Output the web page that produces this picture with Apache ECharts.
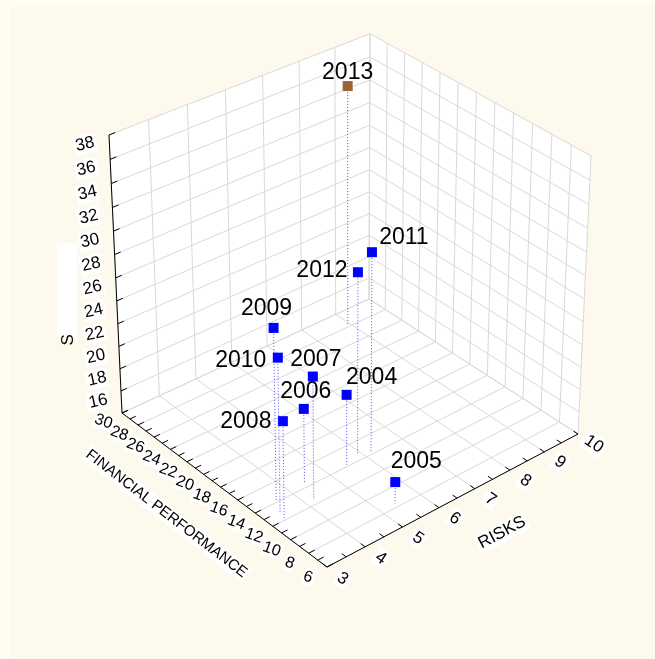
<!DOCTYPE html>
<html>
<head>
<meta charset="utf-8">
<script src="https://cdn.jsdelivr.net/npm/echarts@6/dist/echarts.min.js"></script>
<style>
html,body{margin:0;padding:0;background:#fffcf4;}
#c{width:655px;height:659px;}
</style>
</head>
<body>
<div id="c"></div>
<script>
// ---------------- data ----------------
const years = [2004, 2005, 2006, 2007, 2008, 2009, 2010, 2011, 2012, 2013];
const risks = [5.5, 5.4, 4.4, 4.2, 3.3, 3.6, 3.4, 6.2, 5.9, 8.9];
const financialPerformance = [14.2, 8.4, 14.4, 12.5, 12.0, 14.2, 12.9, 14.3, 14.6, 28.1];
const sValues = [20.2, 15.9, 20.6, 24.7, 22.6, 28.8, 27.3, 31.3, 29.9, 35.6];

const riskTicks = [3, 4, 5, 6, 7, 8, 9, 10];
const finTicks = [6, 8, 10, 12, 14, 16, 18, 20, 22, 24, 26, 28, 30];
const sTicks = [14, 16, 18, 20, 22, 24, 26, 28, 30, 32, 34, 36, 38];
const sTickLabels = ['', '16', '18', '20', '22', '24', '26', '28', '30', '32', '34', '36', '38'];

const axisTitles = { fin: 'FINANCIAL PERFORMANCE', risk: 'RISKS', s: 'S' };
const highlightYear = 2013;

// ---------------- layout / view ----------------
const RISK_RANGE = [3, 10], FIN_RANGE = [6, 30], S_RANGE = [14, 38];
// projective view of the unit cube (u: risks, v: financial perf., s: vertical)
const VIEW = [
  [293.84, -195.37, -20.36, 327],
  [-100.84, -121.41, -307.8, 567],
  [0.07411, 0.0789, -0.05818, 1]
];
function P(u, v, s) {
  const w = VIEW[2][0]*u + VIEW[2][1]*v + VIEW[2][2]*s + VIEW[2][3];
  return [
    (VIEW[0][0]*u + VIEW[0][1]*v + VIEW[0][2]*s + VIEW[0][3]) / w,
    (VIEW[1][0]*u + VIEW[1][1]*v + VIEW[1][2]*s + VIEW[1][3]) / w
  ];
}
const nu = r => (r - RISK_RANGE[0]) / (RISK_RANGE[1] - RISK_RANGE[0]);
const nv = f => (f - FIN_RANGE[0]) / (FIN_RANGE[1] - FIN_RANGE[0]);
const ns = z => (z - S_RANGE[0]) / (S_RANGE[1] - S_RANGE[0]);

const FONT = '"Liberation Sans", Arial, Helvetica, sans-serif';
const GRID = '#d9d9d9';
const AXIS = '#000000';

// label placement around each marker (offset of text centre)
const labelOffset = {
  2004: [25, -17], 2005: [21, -20], 2006: [2, -17], 2007: [3, -17],
  2008: [-37, 0], 2009: [-7, -19], 2010: [-37, 3], 2011: [32, -15],
  2012: [-36, -2], 2013: [0, -13]
};

// ---------------- frame (walls, grid, axes) ----------------
const g = [];
g.push({ type: 'rect', z: -10, silent: true, shape: { x: 10, y: 6, width: 645, height: 653 }, style: { fill: '#fef9ed' } });
function poly(pts, fill, z) { g.push({ type: 'polygon', z, silent: true, shape: { points: pts }, style: { fill, stroke: null } }); }
function seg(a, b, stroke, z, w) { g.push({ type: 'line', z, silent: true, shape: { x1: a[0], y1: a[1], x2: b[0], y2: b[1] }, style: { stroke, lineWidth: w || 1 } }); }
function txt(p, str, size, rot, z, bg, pad) {
  g.push({ type: 'text', z, silent: true, x: p[0], y: p[1], rotation: rot || 0,
    style: { text: str, font: size + 'px ' + FONT, fill: '#000', align: 'center', verticalAlign: 'middle',
      backgroundColor: bg || null, padding: bg ? (pad || [1, 2]) : 0 } });
}
// walls
poly([P(0,0,0), P(1,0,0), P(1,1,0), P(0,1,0)], '#ffffff', 0);
poly([P(0,1,0), P(1,1,0), P(1,1,1), P(0,1,1)], '#ffffff', 0);
poly([P(1,0,0), P(1,1,0), P(1,1,1), P(1,0,1)], '#ffffff', 0);
// grid: risks
riskTicks.forEach(r => {
  const u = nu(r);
  seg(P(u,0,0), P(u,1,0), GRID, 1);
  seg(P(u,1,0), P(u,1,1), GRID, 1);
});
// grid: financial
finTicks.forEach(f => {
  const v = nv(f);
  seg(P(0,v,0), P(1,v,0), GRID, 1);
  seg(P(1,v,0), P(1,v,1), GRID, 1);
});
// grid: vertical variable
sTicks.forEach(z => {
  const s = ns(z);
  seg(P(0,1,s), P(1,1,s), GRID, 1);
  seg(P(1,0,s), P(1,1,s), GRID, 1);
});
// axes
seg(P(0,0,0), P(0,1,0), AXIS, 3);
seg(P(0,0,0), P(1,0,0), AXIS, 3);
seg(P(0,1,0), P(0,1,1), AXIS, 3);
// ticks
for (let f = FIN_RANGE[0]; f <= FIN_RANGE[1]; f += 1) { const v = nv(f); seg(P(0,v,0), P(0.022,v,0), AXIS, 3); }
for (let r = RISK_RANGE[0]; r <= RISK_RANGE[1] + 1e-9; r += 0.5) { const u = nu(r); seg(P(u,0,0), P(u,0.02,0), AXIS, 3); }
sTicks.forEach(z => { const s = ns(z); seg(P(0,1,s), P(0.022,1,s), AXIS, 3); });
// tick labels
sTicks.forEach((z, i) => { if (sTickLabels[i]) txt(P(-0.085, 1, ns(z)), sTickLabels[i], 17, 0.22, 4, '#ffffff'); });
finTicks.forEach(f => txt(P(-0.07, nv(f), 0), String(f), 16, -0.35, 5, '#ffffff', [0, 1]));
riskTicks.forEach(r => txt(P(nu(r), -0.07, 0), String(r), 17, -0.6, 5, '#ffffff'));
// axis titles
txt(P(-0.2, 0.5, 0), axisTitles.fin, 15, -0.658, 6, '#ffffff');
txt(P(0.49, -0.21, 0), axisTitles.risk, 17, 0.49, 6, '#ffffff');
(function () {
  const c = P(-0.175, 1, 0.53);
  g.push({ type: 'rect', z: 6, silent: true, shape: { x: c[0] - 10, y: c[1] - 47, width: 20, height: 95 }, style: { fill: '#ffffff' } });
  txt([c[0] + 1, c[1] + 50], axisTitles.s, 17, Math.PI / 2, 7, null);
})();

// ---------------- points ----------------
const pointData = years.map((y, i) => [risks[i], financialPerformance[i], sValues[i], y]);

function renderPoint(params, api) {
  const r = api.value(0), f = api.value(1), z = api.value(2), yr = api.value(3);
  const u = nu(r), v = nv(f), s = ns(z);
  const top = P(u, v, s), base = P(u, v, 0);
  const off = labelOffset[yr] || [0, -16];
  const color = yr === highlightYear ? '#9c6431' : '#0000ff';
  return {
    type: 'group',
    children: [
      { type: 'line', shape: { x1: top[0], y1: top[1], x2: base[0], y2: base[1] },
        style: { stroke: '#4f4fff', lineWidth: 1, lineDash: [1, 2] } },
      { type: 'rect', shape: { x: top[0] - 5, y: top[1] - 5, width: 10, height: 10 },
        style: { fill: color } },
      { type: 'text', x: top[0] + off[0], y: top[1] + off[1],
        style: { text: String(yr), font: '23px ' + FONT, fill: '#000', align: 'center', verticalAlign: 'middle' } }
    ]
  };
}

const chart = echarts.init(document.getElementById('c'), null, { renderer: 'canvas' });
chart.setOption({
  backgroundColor: '#fffcf4',
  animation: false,
  graphic: { elements: g },
  series: [{
    type: 'custom',
    coordinateSystem: 'none',
    z: 20,
    silent: true,
    data: pointData,
    renderItem: renderPoint
  }]
});
</script>
</body>
</html>
